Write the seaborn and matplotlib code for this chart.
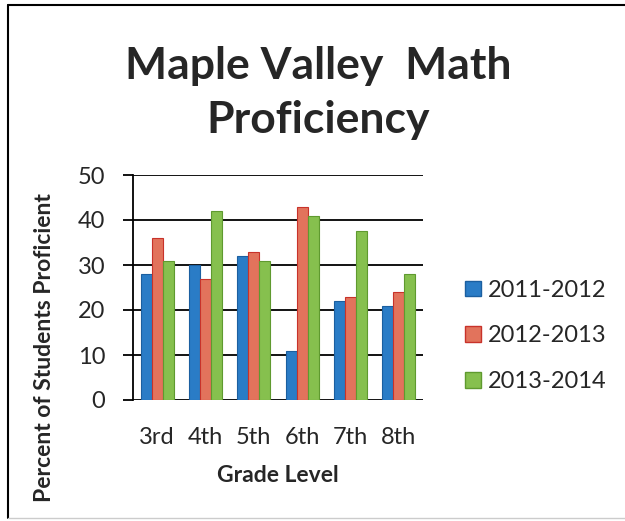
import numpy as np
import pandas as pd
import seaborn as sns
import matplotlib
matplotlib.use("Agg")
import matplotlib.pyplot as plt
from matplotlib.lines import Line2D

grades = ["3rd", "4th", "5th", "6th", "7th", "8th"]
years = ["2011-2012", "2012-2013", "2013-2014"]
vals_2011 = [28, 30, 32, 11, 22, 21]
vals_2012 = [36, 27, 33, 43, 23, 24]
vals_2013 = [31, 42, 31, 41, 37.5, 28]
yticks = [0, 10, 20, 30, 40, 50]

df = pd.DataFrame({
    "grade": grades * 3,
    "year": [years[0]] * 6 + [years[1]] * 6 + [years[2]] * 6,
    "pct": vals_2011 + vals_2012 + vals_2013,
})

sns.set_style("white")
plt.rcParams['font.family'] = ['Lato', 'DejaVu Sans']

fills = ["#2a7cc6", "#e2735c", "#86c04e"]
edges = ["#1b5fa0", "#c8322a", "#5f9a2f"]

fig = plt.figure(figsize=(6.25, 5.21), dpi=100)
ax = fig.add_axes([133 / 625, 1 - 400 / 521, 290 / 625, 225 / 521])

sns.barplot(data=df, x="grade", y="pct", hue="year", order=grades,
            hue_order=years, palette=fills, width=0.68, saturation=1,
            legend=False, ax=ax)
for i, cont in enumerate(ax.containers):
    for bar in cont:
        bar.set_edgecolor(edges[i])
        bar.set_linewidth(0.8)

ax.set_ylim(0, 50)
ax.set_xlim(-0.5, 5.5)
ax.set_yticks(yticks)
ax.yaxis.grid(True, color="black", linewidth=1.3)
ax.set_axisbelow(True)
for s in ["top", "right", "bottom"]:
    ax.spines[s].set_visible(False)
ax.spines["left"].set_color("black")
ax.spines["left"].set_linewidth(1.3)
ax.tick_params(axis="y", which="both", left=True, length=7, width=1.3,
               color="black", pad=13, labelsize=17)
ax.tick_params(axis="x", bottom=False, pad=16, labelsize=17)
ax.set_xlabel("Grade Level", fontsize=16.5, fontweight="bold", labelpad=12)
ax.set_ylabel("Percent of Students Proficient", fontsize=16.5,
              fontweight="bold")
ax.yaxis.set_label_coords(-0.27, 0.235)

fig.text(318 / 625, 1 - 66 / 521, "Maple Valley  Math", ha="center",
         va="center", fontsize=32, fontweight="bold")
fig.text(318 / 625, 1 - 120 / 521, "Proficiency", ha="center",
         va="center", fontsize=32, fontweight="bold")

handles = [matplotlib.patches.Patch(facecolor=fills[i], edgecolor=edges[i],
                                    label=years[i]) for i in range(3)]
fig.legend(handles=handles, loc="center left",
           bbox_to_anchor=(444 / 625, 1 - 336 / 521), frameon=False,
           fontsize=17, handlelength=0.65, handleheight=0.65,
           handletextpad=0.3, labelspacing=1.05)

# page border from the scan
fig.add_artist(Line2D([8 / 625, 1], [1 - 5 / 521, 1 - 5 / 521],
                      color="black", linewidth=1.5))
fig.add_artist(Line2D([8 / 625, 8 / 625], [1 - 5 / 521, 1 - 518 / 521],
                      color="black", linewidth=1.5))
fig.add_artist(Line2D([8 / 625, 1], [1 - 518 / 521, 1 - 518 / 521],
                      color="#cccccc", linewidth=1))

fig.savefig("out.png", dpi=100)
